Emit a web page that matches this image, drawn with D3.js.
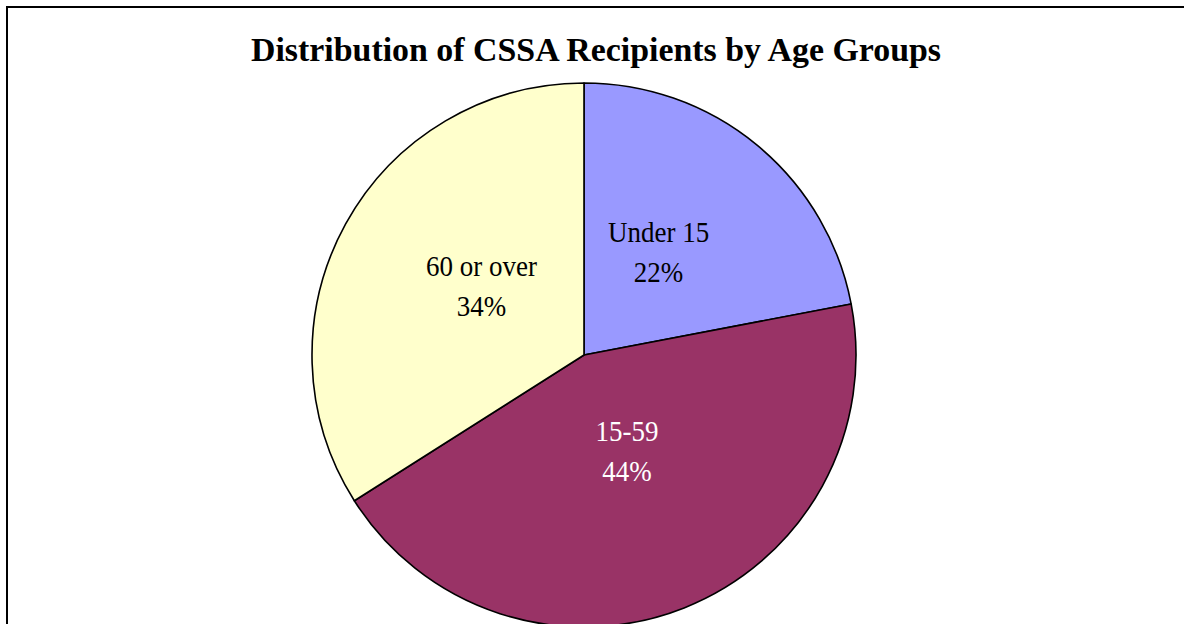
<!DOCTYPE html>
<html>
<head>
<meta charset="utf-8">
<script src="https://cdn.jsdelivr.net/npm/d3@7"></script>
<style>
  html, body { margin: 0; padding: 0; background: #fff; overflow: hidden; }
  svg { display: block; }
</style>
</head>
<body>
<svg id="chart" width="1184" height="624"></svg>
<script>
const title = "Distribution of CSSA Recipients by Age Groups";
const categories = ["Under 15", "15-59", "60 or over"];
const values = [22, 44, 34];
const colors = ["#9999FF", "#993366", "#FFFFCC"];
const labelColors = ["#000000", "#FFFFFF", "#000000"];

const svg = d3.select("#chart");

// frame
svg.append("rect")
  .attr("x", 7).attr("y", 7)
  .attr("width", 1185).attr("height", 700)
  .attr("fill", "#fff").attr("stroke", "#000").attr("stroke-width", 2);

// title
svg.append("text")
  .attr("x", 596).attr("y", 61)
  .attr("text-anchor", "middle")
  .attr("font-family", "Liberation Serif, serif")
  .attr("font-weight", "bold")
  .attr("font-size", 34)
  .attr("textLength", 690)
  .attr("lengthAdjust", "spacingAndGlyphs")
  .text(title);

const cx = 584, cy = 355, R = 272;
const pie = d3.pie().sort(null).value(d => d.v);
const data = categories.map((c, i) => ({ c, v: values[i], i }));
const arcs = pie(data);
const arc = d3.arc().innerRadius(0).outerRadius(R);
const labelArc = d3.arc().innerRadius(117).outerRadius(117);

const g = svg.append("g").attr("transform", `translate(${cx},${cy})`);
g.selectAll("path").data(arcs).join("path")
  .attr("d", arc)
  .attr("fill", d => colors[d.data.i])
  .attr("stroke", "#000")
  .attr("stroke-width", 1.6)
  .attr("stroke-linejoin", "round");

const lab = g.selectAll("text.lab").data(arcs).join("text")
  .attr("class", "lab")
  .attr("text-anchor", "middle")
  .attr("font-family", "Liberation Serif, serif")
  .attr("font-size", 29)
  .attr("fill", d => labelColors[d.data.i])
  .attr("transform", d => {
    const [x, y] = labelArc.centroid(d);
    return `translate(${x},${y}) scale(0.93,1)`;
  });
lab.append("tspan").attr("x", 0).attr("y", -23).text(d => d.data.c);
lab.append("tspan").attr("x", 0).attr("y", 17).text(d => d.data.v + "%");
</script>
</body>
</html>
